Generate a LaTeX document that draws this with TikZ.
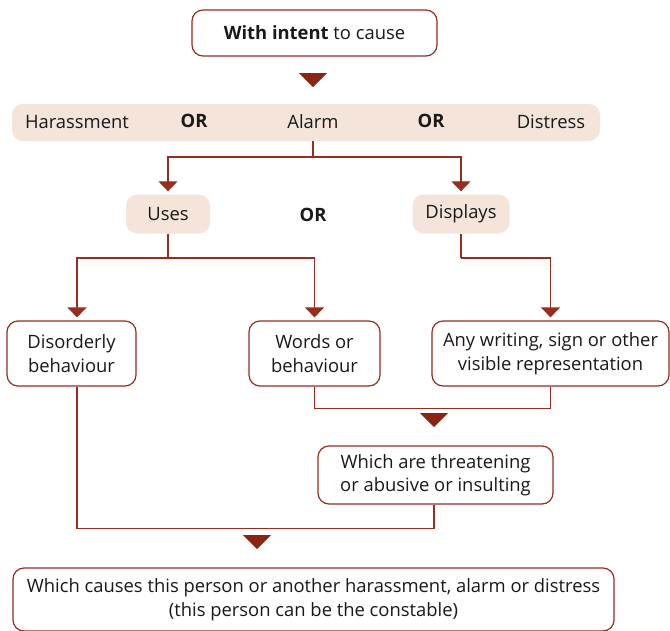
\documentclass[tikz,border=0pt]{standalone}
\usepackage{fontspec}
\setmainfont{Open Sans}
\usetikzlibrary{arrows.meta}
\definecolor{dred}{RGB}{150,45,30}
\definecolor{tred}{RGB}{138,36,20}
\definecolor{beige}{RGB}{244,228,218}
\definecolor{txt}{RGB}{25,25,25}
\begin{document}
\begin{tikzpicture}[x=1pt,y=-1pt,
  font=\fontsize{18.4}{23.5}\selectfont, text=txt,
  rbox/.style={draw=dred, line width=1.2pt, rounded corners=11pt, fill=white, align=center, inner sep=0pt},
  bbox/.style={fill=beige, rounded corners=11pt, align=center, inner sep=0pt},
  lbl/.style={inner sep=0pt, align=center},
  conn/.style={draw=dred, line width=1.2pt},
  arr/.style={conn, -{Triangle[width=19pt,length=10pt]}, shorten >=3pt},
  bigtri/.style={fill=tred}]
\useasboundingbox (0,0) rectangle (670,630);
\clip (0,0) rectangle (670,630);

% top box
\node[rbox, minimum width=245pt, minimum height=46pt] (top) at (314.5,33) {\textbf{With intent} to cause};
\fill[bigtri] (299,73) -- (327,73) -- (313,87) -- cycle;

% band
\node[bbox, minimum width=588pt, minimum height=37pt] (band) at (306,122.5) {};
\node[lbl] (harass) at (77,122) {Harassment};
\node[lbl] (or1) at (194,121) {\textbf{OR}};
\node[lbl] (alarm) at (313,122) {Alarm};
\node[lbl] (or2) at (431,121) {\textbf{OR}};
\node[lbl] (distress) at (551,122) {Distress};

% uses / displays
\node[bbox, minimum width=84pt, minimum height=39pt] (uses) at (168,214) {Uses};
\node[lbl] (or3) at (313,215) {\textbf{OR}};
\node[bbox, minimum width=97pt, minimum height=39pt] (displays) at (461,214) {Displays};

\coordinate (j1) at (313,157);
\draw[conn] (alarm |- band.south) -- (j1);
\draw[arr] (j1) -| (uses.north);
\draw[arr] (j1) -| (displays.north);

% third row
\node[rbox, minimum width=129pt, minimum height=65pt] (dis) at (71.5,353.5) {Disorderly\\behaviour};
\node[rbox, minimum width=131pt, minimum height=65pt] (words) at (314.5,353.5) {Words or\\behaviour};
\node[rbox, minimum width=237pt, minimum height=65pt] (anyw) at (550.5,353.5) {Any writing, sign or other\\visible representation};

\coordinate (j2) at (168,258);
\draw[conn] (uses.south) -- (j2);
\draw[arr] (j2) -| ([xshift=5.5pt]dis.north);
\draw[arr] (j2) -| (words.north);
\coordinate (j3) at (461,258);
\draw[conn] (displays.south) -- (j3);
\draw[arr] (j3) -| (anyw.north);

% merge words / any writing
\draw[conn] (words.south) -- ++(0,22) -| (anyw.south);
\fill[bigtri] (420,413) -- (448,413) -- (434,427) -- cycle;

\node[rbox, minimum width=235pt, minimum height=58pt] (which) at (435.5,475) {Which are threatening\\or abusive or insulting};

\draw[conn] ([xshift=5.5pt]dis.south) -- ++(0,142) -| ([xshift=-1.5pt]which.south);
\fill[bigtri] (243,535) -- (271,535) -- (257,549) -- cycle;

\node[rbox, minimum width=601pt, minimum height=63pt] (final) at (313.5,599.5) {Which causes this person or another harassment, alarm or distress\\(this person can be the constable)};
\end{tikzpicture}
\end{document}
